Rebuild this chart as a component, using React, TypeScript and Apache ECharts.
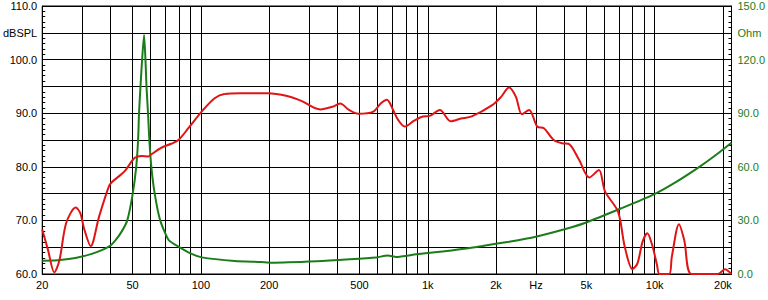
import React, { useEffect, useRef } from "react";
import * as echarts from "echarts";

// SPL curve (Hz, dBSPL)
const splFreq = [20, 21.2, 22.6, 23.8, 25.5, 28.1, 29.4, 30.7, 32.7, 35.6, 39.3, 40.7, 44.9, 46.6, 50.6, 52.4, 55, 58.6, 59.9, 67.3, 74, 79.7, 88.1, 100.8, 115, 127, 150, 197, 240, 277, 336, 380, 411, 450, 494, 576, 620, 661, 700, 739, 792, 870, 952, 1020, 1130, 1262, 1400, 1563, 1923, 2100, 2281, 2444, 2598, 2797, 3039, 3250, 3590, 3900, 4172, 4631, 5147, 5680, 6040, 6900, 7380, 7980, 8400, 8840, 9280, 9750, 10240, 10500, 11580, 11900, 12800, 13500, 14540, 19000, 20400, 21800];
const splDb = [68.3, 64.5, 60.3, 62.5, 69.5, 72.4, 71.4, 68.2, 65.2, 70.7, 76.3, 77.2, 78.7, 79.4, 81.5, 81.9, 82.0, 81.9, 82.2, 83.6, 84.3, 85.0, 87.2, 90.3, 92.8, 93.6, 93.7, 93.7, 93.2, 92.3, 90.7, 91.2, 91.8, 90.6, 89.9, 90.3, 91.8, 92.5, 90.8, 88.8, 87.5, 88.6, 89.4, 89.5, 90.6, 88.5, 89.0, 89.4, 91.5, 93.0, 94.8, 93.1, 89.8, 90.6, 87.5, 87.2, 85.0, 84.4, 84.3, 81.4, 78.0, 79.4, 75.4, 71.6, 65.1, 60.9, 62.0, 66.0, 67.6, 65.4, 61.7, 60, 60, 63.2, 69.3, 66.3, 60, 60, 60.9, 60];

// Impedance curve (Hz, Ohm)
const impFreq = [20, 24, 28, 33.3, 39.3, 42.1, 44.9, 47.4, 50.1, 51.9, 52.9, 53.4, 54.2, 55.1, 56.2, 57.0, 57.6, 58.5, 59.3, 60.5, 62.6, 66.2, 72.1, 79.7, 90, 101, 141, 184, 204, 324, 453, 594, 667, 727, 890, 1244, 1741, 2281, 2990, 4043, 4955, 7130, 9930, 12500, 15800, 18600, 21800];
const impOhm = [7.4, 7.9, 9.0, 11.4, 15.3, 19, 24, 30, 45, 60, 75, 90, 105, 120, 133.8, 120, 105, 90, 75, 60, 45, 30, 19, 15.3, 11.5, 9.3, 7.3, 6.7, 6.3, 7.1, 8.2, 9.3, 10.3, 9.5, 11.0, 13.0, 15.7, 18.1, 20.9, 25.2, 28.7, 36.8, 44.6, 51.7, 60.1, 66.6, 73.5];

// Axis ticks
const gridFreqs = [20, 30, 40, 50, 60, 70, 80, 90, 100, 200, 300, 400, 500, 600, 700, 800, 900, 1000, 2000, 3000, 4000, 5000, 6000, 7000, 8000, 9000, 10000, 20000];
const labelFreqs = [20, 50, 100, 200, 500, 1000, 2000, 3000, 5000, 10000, 20000];
const labelTexts = ["20", "50", "100", "200", "500", "1k", "2k", "Hz", "5k", "10k", "20k"];
const freqMin = 20;
const freqMax = 21800;

const RED = "#e01414";
const GREEN = "#1a7d1a";
const FONT = "'Liberation Sans', Arial, sans-serif";

export default function App() {
  const ref = useRef<HTMLDivElement>(null);
  useEffect(() => {
    if (!ref.current) return;
    const chart = echarts.init(ref.current, undefined, { renderer: "svg" });
    const lg = (f: number) => Math.log10(f);
    const labelMap: Record<string, string> = {};
    labelFreqs.forEach((f, i) => {
      labelMap[lg(f).toFixed(4)] = labelTexts[i];
    });
    chart.setOption({
      animation: false,
      backgroundColor: "#ffffff",
      grid: {
        left: 40,
        right: 34,
        top: 6,
        bottom: 26,
        show: true,
        borderColor: "#000",
        borderWidth: 1,
        backgroundColor: "transparent",
      },
      xAxis: {
        type: "value",
        min: lg(freqMin),
        max: lg(freqMax),
        axisLine: { show: true, lineStyle: { color: "#000", width: 1 } },
        axisTick: { show: false, customValues: gridFreqs.map(lg) },
        axisLabel: {
          customValues: labelFreqs.map(lg),
          formatter: (v: number) => labelMap[v.toFixed(4)] ?? "",
          color: "#000",
          fontSize: 11,
          fontFamily: FONT,
          margin: 5,
        },
        splitLine: { show: true, lineStyle: { color: "#000", width: 1 } },
      },
      yAxis: [
        {
          type: "value",
          min: 60,
          max: 110,
          interval: 5,
          axisLine: { show: true, lineStyle: { color: "#000", width: 1 } },
          axisTick: { show: true, inside: true, length: 3, lineStyle: { color: "#000" } },
          minorTick: { show: true, splitNumber: 5, length: 3, lineStyle: { color: "#000" } },
          axisLabel: {
            formatter: (v: number) =>
              Math.abs(v % 10) < 1e-6 ? v.toFixed(1) : Math.abs(v - 105) < 1e-6 ? "dBSPL" : "",
            color: "#000",
            fontSize: 11,
            fontFamily: FONT,
            margin: 5,
          },
          splitLine: { show: true, lineStyle: { color: "#000", width: 1 } },
        },
        {
          type: "value",
          position: "right",
          min: 0,
          max: 150,
          interval: 15,
          axisLine: { show: true, lineStyle: { color: "#000", width: 1 } },
          axisTick: { show: true, inside: true, length: 3, lineStyle: { color: "#000" } },
          minorTick: { show: true, splitNumber: 5, length: 3, lineStyle: { color: "#000" } },
          axisLabel: {
            formatter: (v: number) =>
              Math.abs(v % 30) < 1e-6 ? v.toFixed(1) : Math.abs(v - 135) < 1e-6 ? "Ohm" : "",
            color: GREEN,
            fontSize: 11,
            fontFamily: FONT,
            margin: 6,
          },
          splitLine: { show: false },
        },
      ],
      series: [
        {
          type: "line",
          yAxisIndex: 1,
          data: impFreq.map((f, i) => [lg(f), impOhm[i]]),
          showSymbol: false,
          smooth: 0.2,
          lineStyle: { color: GREEN, width: 2 },
          z: 3,
        },
        {
          type: "line",
          yAxisIndex: 0,
          data: splFreq.map((f, i) => [lg(f), splDb[i]]),
          showSymbol: false,
          smooth: 0.3,
          lineStyle: { color: RED, width: 2 },
          z: 4,
        },
      ],
    });
    return () => chart.dispose();
  }, []);
  return (
    <div
      ref={ref}
      style={{ position: "fixed", left: 0, top: 0, width: 768, height: 300, background: "#fff" }}
    />
  );
}
